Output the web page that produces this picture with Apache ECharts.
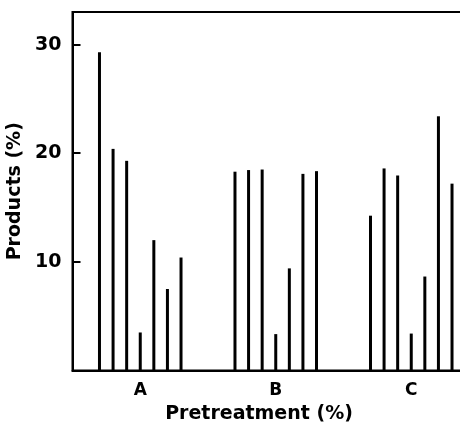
<!DOCTYPE html>
<html>
<head>
<meta charset="utf-8">
<script src="https://cdn.jsdelivr.net/npm/echarts@6/dist/echarts.min.js"></script>
<style>html,body{margin:0;padding:0;background:#fff;}#c{width:460px;height:426px;}</style>
</head>
<body>
<div id="c"></div>
<script>
const categories = ['A', 'B', 'C'];
const groupA = [29.3, 20.4, 19.3, 3.5, 12.0, 7.5, 10.4];
const groupB = [18.3, 18.45, 18.5, 3.35, 9.4, 18.1, 18.35];
const groupC = [14.25, 18.6, 17.95, 3.4, 8.65, 23.4, 17.2];
const yTicks = [10, 20, 30];

const groups = [groupA, groupB, groupC];
const series = groupA.map((_, i) => ({
  type: 'bar',
  data: groups.map(g => g[i]),
  barWidth: 3,
  barGap: '353%',
  itemStyle: { color: '#000' },
  silent: true
}));

const chart = echarts.init(document.getElementById('c'), null, { renderer: 'canvas' });
chart.setOption({
  backgroundColor: '#fff',
  animation: false,
  grid: { left: 72.5, top: 12, right: -19, bottom: 55.5, containLabel: false, outerBoundsMode: 'none', show: true, borderColor: '#000', borderWidth: 2, backgroundColor: 'transparent' },
  xAxis: {
    type: 'category',
    data: categories,
    axisLine: { lineStyle: { color: '#000', width: 2 } },
    axisTick: { show: false },
    axisLabel: { color: '#000', fontFamily: 'DejaVu Sans', fontWeight: 'bold', fontSize: 17, margin: 12 }
  },
  yAxis: {
    type: 'value',
    min: 0, max: 33, interval: 10,
    splitLine: { show: false },
    axisLine: { show: true, lineStyle: { color: '#000', width: 2 } },
    axisTick: { show: true, inside: true, length: 8, lineStyle: { color: '#000', width: 2 } },
    axisLabel: {
      color: '#000', fontFamily: 'DejaVu Sans', fontWeight: 'bold', fontSize: 19, margin: 11,
      formatter: v => (yTicks.indexOf(v) >= 0 ? String(v) : '')
    },
    name: 'Products (%)',
    nameLocation: 'middle',
    nameGap: 42,
    nameTextStyle: { color: '#000', fontFamily: 'DejaVu Sans', fontWeight: 'bold', fontSize: 19 }
  },
  graphic: [{
    type: 'text',
    x: 259, y: 414,
    style: { text: 'Pretreatment (%)', fill: '#000', font: 'bold 19px "DejaVu Sans"', align: 'center', verticalAlign: 'middle' }
  }],
  series: series
});
</script>
</body>
</html>
